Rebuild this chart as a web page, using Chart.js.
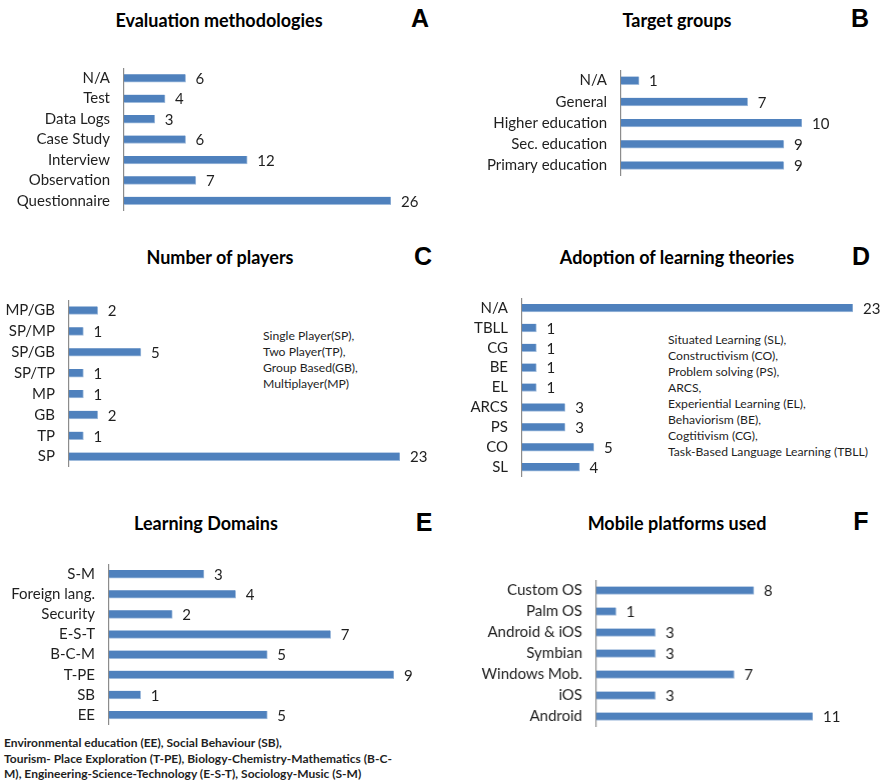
<!DOCTYPE html>
<html>
<head>
<meta charset="utf-8">
<script src="https://cdn.jsdelivr.net/npm/chart.js@4.4.1/dist/chart.umd.min.js"></script>
<style>
  html, body { margin: 0; padding: 0; background: #fff; }
  body { width: 884px; height: 784px; position: relative; overflow: hidden; font-family: Lato, "Open Sans", sans-serif; color: #1f1f1f; }
  .panel-canvas { position: absolute; }
  .title { position: absolute; width: 400px; text-align: center; font-weight: bold; font-size: 18px; line-height: 20px; color: #000; white-space: nowrap; }
  .letter { position: absolute; width: 30px; text-align: center; font-family: "Liberation Sans", Arial, sans-serif; font-weight: bold; font-size: 25px; line-height: 28px; color: #000; }
  .note { position: absolute; font-size: 12.2px; line-height: 16px; color: #1f1f1f; white-space: nowrap; }
  .foot { position: absolute; font-size: 12px; line-height: 15.5px; font-weight: bold; color: #1f1f1f; white-space: nowrap; }
</style>
</head>
<body>

<div class="title" style="left:19px; top:10px;">Evaluation methodologies</div>
<div class="letter" style="left:405px; top:4px;">A</div>
<div class="title" style="left:477px; top:10px;">Target groups</div>
<div class="letter" style="left:845px; top:4px;">B</div>
<div class="title" style="left:20px; top:247px;">Number of players</div>
<div class="letter" style="left:408px; top:242px;">C</div>
<div class="title" style="left:477px; top:247px;">Adoption of learning theories</div>
<div class="letter" style="left:846px; top:242px;">D</div>
<div class="title" style="left:6px; top:513px;">Learning Domains</div>
<div class="letter" style="left:409px; top:508px;">E</div>
<div class="title" style="left:477px; top:513px;">Mobile platforms used</div>
<div class="letter" style="left:846px; top:507px;">F</div>

<div class="note" style="left:263px; top:328px;">Single Player(SP),<br>Two Player(TP),<br>Group Based(GB),<br>Multiplayer(MP)</div>
<div class="note" style="left:668px; top:332px;">Situated Learning (SL),<br>Constructivism (CO),<br>Problem solving (PS),<br>ARCS,<br>Experiential Learning (EL),<br>Behaviorism (BE),<br>Cogtitivism (CG),<br>Task-Based Language Learning (TBLL)</div>
<div class="foot" style="left:4px; top:735px;">Environmental education (EE), Social Behaviour (SB),<br>Tourism- Place Exploration (T-PE), Biology-Chemistry-Mathematics (B-C-<br>M), Engineering-Science-Technology (E-S-T), Sociology-Music (S-M)</div>

<canvas id="chartA" class="panel-canvas"></canvas>
<canvas id="chartB" class="panel-canvas"></canvas>
<canvas id="chartC" class="panel-canvas"></canvas>
<canvas id="chartD" class="panel-canvas"></canvas>
<canvas id="chartE" class="panel-canvas"></canvas>
<canvas id="chartF" class="panel-canvas"></canvas>

<script>
// A: evaluation methodologies
const evalLabels = ['N/A', 'Test', 'Data Logs', 'Case Study', 'Interview', 'Observation', 'Questionnaire'];
const evalCounts = [6, 4, 3, 6, 12, 7, 26];

// B: target groups
const targetLabels = ['N/A', 'General', 'Higher education', 'Sec. education', 'Primary education'];
const targetCounts = [1, 7, 10, 9, 9];

// C: number of players
const playerLabels = ['MP/GB', 'SP/MP', 'SP/GB', 'SP/TP', 'MP', 'GB', 'TP', 'SP'];
const playerCounts = [2, 1, 5, 1, 1, 2, 1, 23];

// D: adoption of learning theories
const theoryLabels = ['N/A', 'TBLL', 'CG', 'BE', 'EL', 'ARCS', 'PS', 'CO', 'SL'];
const theoryCounts = [23, 1, 1, 1, 1, 3, 3, 5, 4];

// E: learning domains
const domainLabels = ['S-M', 'Foreign lang.', 'Security', 'E-S-T', 'B-C-M', 'T-PE', 'SB', 'EE'];
const domainCounts = [3, 4, 2, 7, 5, 9, 1, 5];

// F: mobile platforms used
const platformLabels = ['Custom OS', 'Palm OS', 'Android & iOS', 'Symbian', 'Windows Mob.', 'iOS', 'Android'];
const platformCounts = [8, 1, 3, 3, 7, 3, 11];

const BAR_BLUE = '#4F81BD';
const TEXT_FONT = 'Lato, "Open Sans", sans-serif';
const TEXT_SIZE = 15;

// Writes each bar's count just past its end
const valueLabels = {
  id: 'valueLabels',
  afterDatasetsDraw(chart) {
    const ctx = chart.ctx;
    const meta = chart.getDatasetMeta(0);
    const data = chart.data.datasets[0].data;
    ctx.save();
    ctx.font = TEXT_SIZE + 'px ' + TEXT_FONT;
    ctx.fillStyle = '#1f1f1f';
    ctx.textAlign = 'left';
    ctx.textBaseline = 'middle';
    meta.data.forEach((bar, i) => {
      ctx.fillText(String(data[i]), bar.x + 10, bar.y + 1);
    });
    ctx.restore();
  }
};

// box: canvas left/top/height, axisX: x of the category axis,
// unit: pixels per count, maxVal: value range, extra: room right of the bars
function drawPanel(id, labels, counts, box) {
  const canvas = document.getElementById(id);
  const axisOffset = box.axisX - box.left;
  const plotWidth = box.maxVal * box.unit;
  const width = axisOffset + plotWidth + box.extra;
  canvas.style.left = box.left + 'px';
  canvas.style.top = box.top + 'px';
  canvas.style.width = width + 'px';
  canvas.style.height = box.height + 'px';
  canvas.width = width;
  canvas.height = box.height;

  new Chart(canvas, {
    type: 'bar',
    data: {
      labels: labels,
      datasets: [{
        data: counts,
        backgroundColor: BAR_BLUE,
        borderColor: '#9fbbdc',
        borderWidth: { top: 0, left: 0, right: 1, bottom: 1 },
        borderSkipped: false,
        barThickness: 8
      }]
    },
    options: {
      indexAxis: 'y',
      responsive: false,
      maintainAspectRatio: false,
      animation: false,
      devicePixelRatio: 1,
      layout: { padding: { left: 0, top: 0, bottom: 0, right: box.extra } },
      plugins: { legend: { display: false }, tooltip: { enabled: false }, title: { display: false } },
      scales: {
        x: { display: false, min: 0, max: box.maxVal },
        y: {
          grid: { display: false, drawTicks: false },
          border: { display: true, color: '#8c8c8c', width: 1.2 },
          ticks: { autoSkip: false, padding: 14, color: '#1f1f1f', font: { family: TEXT_FONT, size: TEXT_SIZE } },
          afterFit(scale) {
            // fixed axis position; category band spans the full canvas height
            scale.width = axisOffset;
            scale.paddingTop = 0;
            scale.paddingBottom = 0;
          }
        }
      }
    },
    plugins: [valueLabels]
  });
}

drawPanel('chartA', evalLabels, evalCounts, { left: 0, top: 68, height: 143, axisX: 124, unit: 10.27, maxVal: 26, extra: 36 });
drawPanel('chartB', targetLabels, targetCounts, { left: 460, top: 70, height: 106, axisX: 621, unit: 18.1, maxVal: 10, extra: 36 });
drawPanel('chartC', playerLabels, playerCounts, { left: 0, top: 300, height: 167, axisX: 69, unit: 14.4, maxVal: 23, extra: 36 });
drawPanel('chartD', theoryLabels, theoryCounts, { left: 460, top: 298, height: 179, axisX: 522, unit: 14.4, maxVal: 23, extra: 30 });
drawPanel('chartE', domainLabels, domainCounts, { left: 0, top: 564, height: 161, axisX: 109, unit: 31.7, maxVal: 9, extra: 30 });
drawPanel('chartF', platformLabels, platformCounts, { left: 460, top: 580, height: 147, axisX: 596, unit: 19.7, maxVal: 11, extra: 36 });
</script>
</body>
</html>
